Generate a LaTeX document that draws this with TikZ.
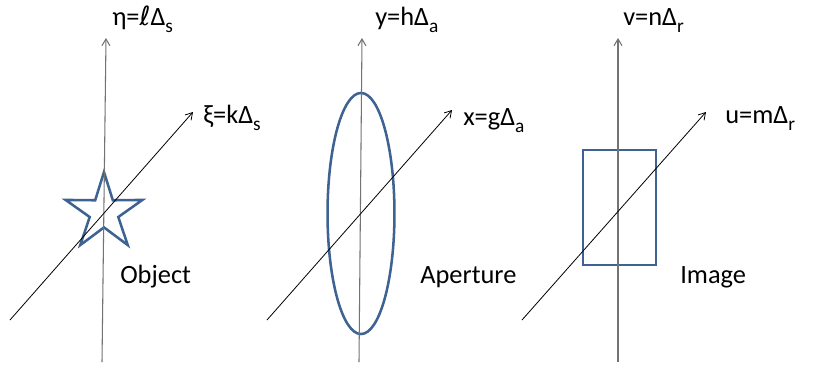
\documentclass[tikz,border=0pt]{standalone}
\usepackage{fontspec}
\setmainfont{Carlito}
\newfontfamily\symfont{DejaVu Sans}
\usetikzlibrary{arrows.meta}
\newcommand{\lowsub}[1]{\raisebox{-0.28em}{\fontsize{14.5}{14.5}\selectfont #1}}
\begin{document}
\begin{tikzpicture}[x=0.75pt,y=-0.75pt,
  vaxis/.style={draw=black!55,line width=0.8pt,-{Straight Barb[length=5pt,width=6pt]}},
  daxis/.style={draw=black,line width=0.6pt,-{Straight Barb[length=5pt,width=6pt]}},
  outline/.style={draw={rgb,255:red,62;green,98;blue,145},line width=1.9pt,line join=miter},
  lab/.style={anchor=base west,inner sep=0pt,font=\fontsize{19.8}{22}\selectfont}]
\useasboundingbox (0,0) rectangle (814,369);
% shapes
\draw[outline] (104,172) -- (112.82,200.27) -- (142.42,199.92) -- (118.27,217.04)
  -- (127.75,245.08) -- (104,227.4) -- (80.25,245.08) -- (89.73,217.04)
  -- (65.58,199.92) -- (95.18,200.27) -- cycle;
\draw[outline] (361,213.5) ellipse [x radius=25.1pt,y radius=90.4pt];
\draw[outline] (583,150) rectangle (656,265);
% axes coordinates
\coordinate (v1b) at (102,362); \coordinate (v1t) at (106,38);
\coordinate (d1b) at (10,320);  \coordinate (d1t) at (193,112);
\coordinate (v2b) at (359,362); \coordinate (v2t) at (362,38);
\coordinate (d2b) at (267,320); \coordinate (d2t) at (452,110);
\coordinate (v3b) at (618,362); \coordinate (v3t) at (618,38);
\coordinate (d3b) at (522,320); \coordinate (d3t) at (706,112);
\draw[vaxis] (v1b) -- (v1t);
\draw[daxis] (d1b) -- (d1t);
\draw[vaxis] (v2b) -- (v2t);
\draw[daxis] (d2b) -- (d2t);
\draw[vaxis] (v3b) -- (v3t);
\draw[daxis] (d3b) -- (d3t);
% labels
\node[lab] (eta) at (112,25) {η={\symfont ℓ}Δ\lowsub{s}};
\node[lab] (xi) at (203,123) {ξ=kΔ\lowsub{s}};
\node[lab] (obj) at (120,283) {Object};
\node[lab] (yl) at (375,25) {y=hΔ\lowsub{a}};
\node[lab] (xl) at (463,125) {x=gΔ\lowsub{a}};
\node[lab] (ap) at (420,283) {Aperture};
\node[lab] (vl) at (623,25) {v=nΔ\lowsub{r}};
\node[lab] (ul) at (725,123) {u=mΔ\lowsub{r}};
\node[lab] (im) at (680,283) {Image};
\end{tikzpicture}
\end{document}
